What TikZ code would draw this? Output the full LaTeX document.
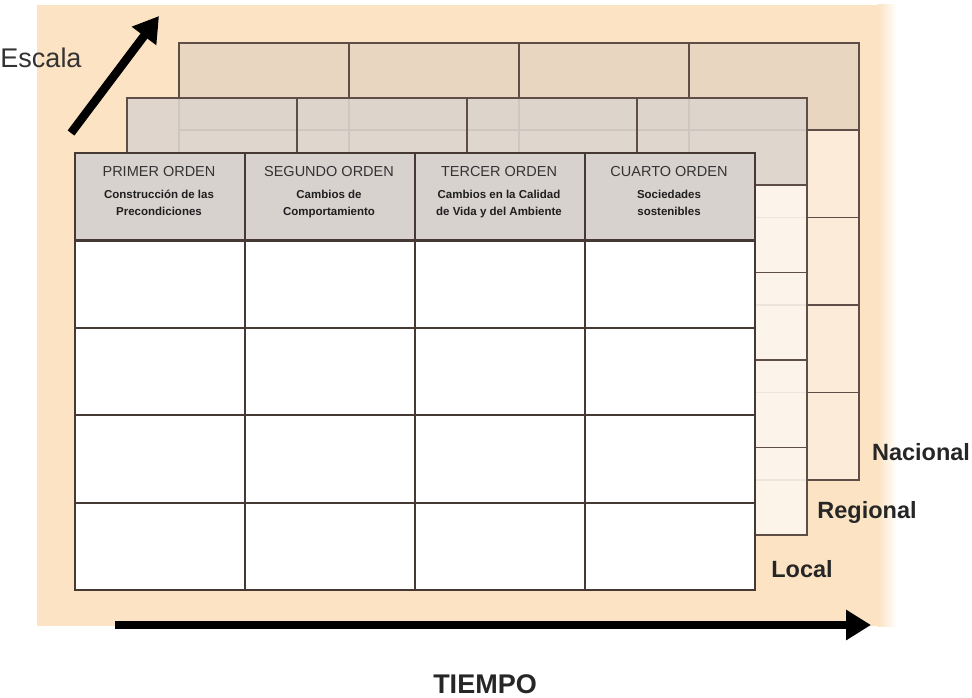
\documentclass[tikz,border=0pt]{standalone}
\usepackage{fontspec}
\setmainfont{Liberation Sans}
\usetikzlibrary{arrows.meta, positioning}

\definecolor{cFondo}{HTML}{FCE3C4}
\definecolor{cCabA}{HTML}{E9D6C1}
\definecolor{cCuerpoA}{HTML}{FCEBD8}
\definecolor{cCabM}{HTML}{DCD4CE}
\definecolor{cCuerpoM}{HTML}{FDF6EE}
\definecolor{cCabF}{HTML}{D8D2CF}
\definecolor{cLinea}{HTML}{5E4E47}
\definecolor{cLineaF}{HTML}{463833}

\begin{document}
\begin{tikzpicture}[x=1pt, y=-1pt,
    celda/.style={draw=cLinea, line width=1.6pt, minimum width=170pt, minimum height=87.4pt, inner sep=0pt, anchor=north west},
    cabA/.style={celda, fill=cCabA},
    cuerpoA/.style={celda, fill=cCuerpoA},
    cabM/.style={celda, fill=cCabM, fill opacity=0.9},
    cuerpoM/.style={celda, fill=cCuerpoM, fill opacity=0.9},
    cabF/.style={celda, draw=cLineaF, line width=2.2pt, fill=cCabF},
    cuerpoF/.style={celda, draw=cLineaF, line width=2.2pt, fill=white},
    titulo/.style={inner sep=0pt, text=black!80, font=\fontsize{14.5}{17}\selectfont},
    subtitulo/.style={inner sep=0pt, align=center, text=black!88, font=\bfseries\fontsize{11.5}{17}\selectfont},
    nivel/.style={inner sep=0pt, anchor=base, text=black!85, font=\bfseries\fontsize{23.5}{28}\selectfont},
    eje/.style={line width=8.5pt, -{Triangle[length=25pt, width=29pt]}}]
    \useasboundingbox (0,0) rectangle (972,698);
    % fondo
    \fill[cFondo] (37,5) rectangle (879,626);
    \shade[left color=cFondo, right color=white] (878,5) rectangle (897,626);
    % nivel nacional
    \foreach \c in {0,...,3} {
        \node[cabA] (a-\c-0) at (178+170*\c,42) {};
        \foreach \r in {1,...,4}
            \node[cuerpoA] (a-\c-\r) at (178+170*\c,42+87.4*\r) {};
    }
    % nivel regional
    \foreach \c in {0,...,3} {
        \node[cabM] (m-\c-0) at (126+170*\c,97) {};
        \foreach \r in {1,...,4}
            \node[cuerpoM] (m-\c-\r) at (126+170*\c,97+87.4*\r) {};
    }
    % nivel local
    \foreach \c in {0,...,3} {
        \node[cabF] (f-\c-0) at (74+170*\c,152) {};
        \foreach \r in {1,...,4}
            \node[cuerpoF] (f-\c-\r) at (74+170*\c,152+87.4*\r) {};
    }
    \foreach \c/\tit/\sub in {0/PRIMER ORDEN/{Construcción de las\\Precondiciones},
            1/SEGUNDO ORDEN/{Cambios de\\Comportamiento},
            2/TERCER ORDEN/{Cambios en la Calidad\\de Vida y del Ambiente},
            3/CUARTO ORDEN/{Sociedades\\sostenibles}} {
        \node[titulo, anchor=south] (t-\c) at (159+170*\c,177) {\tit};
        \node[subtitulo, below=13pt of t-\c.south, anchor=north] (s-\c) {\sub};
    }
    % ejes
    \coordinate (esc-ini) at (71,133);
    \coordinate (esc-fin) at (159,16);
    \draw[eje] (esc-ini) -- (esc-fin);
    \coordinate (tiempo-ini) at (115,625);
    \coordinate (tiempo-fin) at (871,625);
    \draw[eje] (tiempo-ini) -- (tiempo-fin);
    % rotulos
    \node[inner sep=0pt, anchor=base, text=black!80, font=\fontsize{27}{32}\selectfont] (escala) at (41,68) {Escala};
    \node[nivel] (nacional) at (921,460) {Nacional};
    \node[nivel] (regional) at (867,518) {Regional};
    \node[nivel] (local) at (802,577) {Local};
    \node[nivel, font=\bfseries\fontsize{27}{32}\selectfont] (tiempo) at (485,693) {TIEMPO};
\end{tikzpicture}
\end{document}
